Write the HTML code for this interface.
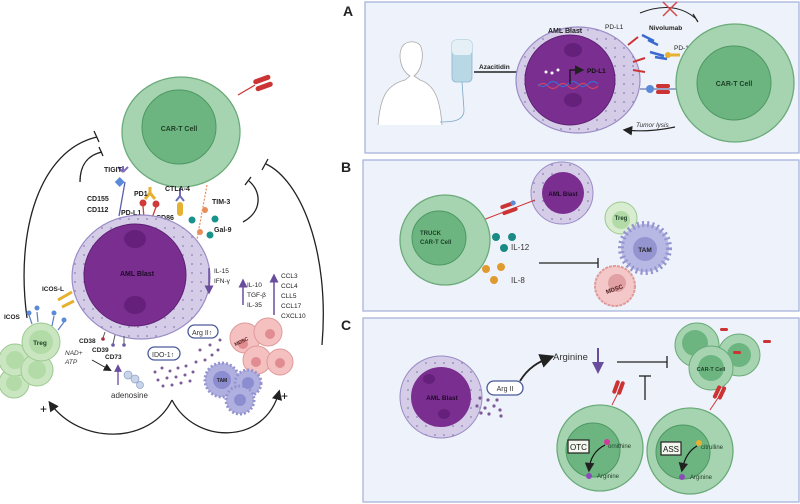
<!DOCTYPE html>
<html><head><meta charset="utf-8"><style>
html,body{margin:0;padding:0;background:#fff;}
svg{display:block;font-family:"Liberation Sans",Arial,sans-serif;}
.b{font-weight:bold;}
</style></head><body>
<svg width="800" height="504" viewBox="0 0 800 504" xmlns="http://www.w3.org/2000/svg">
<defs>
<marker id="ah" markerWidth="8" markerHeight="8" refX="6" refY="4" orient="auto"><path d="M0,0 L8,4 L0,8 z" fill="#222"/></marker>
<marker id="ahp" markerWidth="6" markerHeight="6" refX="3" refY="3" orient="auto"><path d="M0,0 L6,3 L0,6 z" fill="#6a4c9c"/></marker>
<pattern id="dots" width="9" height="9" patternUnits="userSpaceOnUse"><circle cx="3" cy="3" r="0.9" fill="#8c80b4"/></pattern>
</defs>

<!-- ============ LEFT PANEL ============ -->
<path d="M27,318 C15,230 40,150 97,137" fill="none" stroke="#222" stroke-width="1.3"/>
<path d="M94,131 l5,11" stroke="#222" stroke-width="1.3"/>
<path d="M80,182 C80,165 88,155 102,152" fill="none" stroke="#222" stroke-width="1.3"/>
<path d="M99,147 l4,9" stroke="#222" stroke-width="1.3"/>
<path d="M322,345 C330,250 300,180 266,164" fill="none" stroke="#222" stroke-width="1.3"/>
<path d="M262,170 l6,-11" stroke="#222" stroke-width="1.3"/>
<path d="M243,222 C262,212 262,192 249,181" fill="none" stroke="#222" stroke-width="1.3"/>
<path d="M245,185 l6,-8" stroke="#222" stroke-width="1.3"/>
<path d="M172,400 C150,445 80,445 50,403" fill="none" stroke="#222" stroke-width="1.3" marker-end="url(#ah)"/>
<path d="M172,400 C195,445 265,445 279,392" fill="none" stroke="#222" stroke-width="1.3" marker-end="url(#ah)"/>
<text x="40" y="413" font-size="12">+</text>
<text x="281" y="400" font-size="12">+</text>

<line x1="238" y1="95" x2="255" y2="85" stroke="#c33" stroke-width="1.2"/>
<rect x="253" y="77" width="18" height="5" rx="2.5" fill="#c33" transform="rotate(-20 262 80)"/>
<rect x="255" y="84" width="18" height="5" rx="2.5" fill="#c33" transform="rotate(-20 264 86)"/>

<ellipse cx="181" cy="132" rx="59" ry="55" fill="#a7d4b0" stroke="#6aab7a" stroke-width="1.3"/>
<circle cx="179" cy="127" r="37" fill="#6cb580" stroke="#4e9864" stroke-width="1"/>
<text x="179" y="131" font-size="7" class="b" text-anchor="middle" fill="#1d3e26">CAR-T Cell</text>

<line x1="119" y1="216" x2="125" y2="182" stroke="#5b5fa8" stroke-width="1.3"/>
<rect x="116" y="178" width="7" height="7" fill="#5b8ad8" transform="rotate(45 119 182)"/>
<path d="M123,172 l0,-6 M123,172 l-5,-5 M123,172 l5,-5" stroke="#7e6cb8" stroke-width="2" fill="none"/>
<path d="M150,187 l0,6 l-5,6 M150,193 l5,6" stroke="#e6b030" stroke-width="3" fill="none"/>
<circle cx="143" cy="203" r="3.5" fill="#d03a3a"/><circle cx="156" cy="204" r="3.5" fill="#d03a3a"/>
<line x1="143" y1="206" x2="144" y2="218" stroke="#d03a3a" stroke-width="1.3"/>
<line x1="156" y1="207" x2="152" y2="218" stroke="#d03a3a" stroke-width="1.3"/>
<path d="M180,188 l0,8 M180,196 l-4,5 M180,196 l4,5" stroke="#6c6cb8" stroke-width="2" fill="none"/>
<rect x="177" y="202" width="6" height="14" rx="3" fill="#e6b030"/>
<line x1="207" y1="185" x2="196" y2="245" stroke="#e88c5a" stroke-width="1.2" stroke-dasharray="2,1.5"/>
<circle cx="205" cy="210" r="3" fill="#e88c5a"/><circle cx="200" cy="232" r="3" fill="#e88c5a"/>
<circle cx="192" cy="220" r="3.5" fill="#18938c"/><circle cx="215" cy="219" r="3.5" fill="#18938c"/><circle cx="210" cy="235" r="3.5" fill="#18938c"/>

<text x="104" y="172" font-size="7" class="b" fill="#222">TIGIT</text>
<text x="87" y="201" font-size="7" class="b" fill="#222">CD155</text>
<text x="87" y="212" font-size="7" class="b" fill="#222">CD112</text>
<text x="134" y="196" font-size="7" class="b" fill="#222">PD1</text>
<text x="165" y="191" font-size="7" class="b" fill="#222">CTLA-4</text>
<text x="121" y="215" font-size="7" class="b" fill="#222">PD-L1</text>
<text x="156" y="220" font-size="7" class="b" fill="#222">CD86</text>
<text x="212" y="204" font-size="7" class="b" fill="#222">TIM-3</text>
<text x="214" y="232" font-size="7" class="b" fill="#222">Gal-9</text>

<ellipse cx="141" cy="277" rx="69" ry="62" fill="#d5cde8" stroke="#9a8cc6" stroke-width="1.2"/>
<ellipse cx="141" cy="277" rx="69" ry="62" fill="url(#dots)"/>
<circle cx="135" cy="275" r="51" fill="#7a2f90" stroke="#5e1f74" stroke-width="1"/>
<ellipse cx="135" cy="239" rx="11" ry="9" fill="#64207a"/>
<ellipse cx="135" cy="305" rx="11" ry="9" fill="#64207a"/>
<text x="137" y="276" font-size="7" class="b" text-anchor="middle" fill="#1e0a28">AML Blast</text>

<line x1="209" y1="268" x2="209" y2="290" stroke="#6a4c9c" stroke-width="1.5" marker-end="url(#ahp)"/>
<text x="214" y="273" font-size="6.5" fill="#222">IL-15</text>
<text x="214" y="283" font-size="6.5" fill="#222">IFN-γ</text>
<line x1="243" y1="305" x2="243" y2="283" stroke="#6a4c9c" stroke-width="1.5" marker-end="url(#ahp)"/>
<text x="247" y="287" font-size="6.5" fill="#222">IL-10</text>
<text x="247" y="297" font-size="6.5" fill="#222">TGF-β</text>
<text x="247" y="307" font-size="6.5" fill="#222">IL-35</text>
<line x1="274" y1="315" x2="274" y2="278" stroke="#6a4c9c" stroke-width="1.5" marker-end="url(#ahp)"/>
<text x="281" y="278" font-size="6.5" fill="#222">CCL3</text>
<text x="281" y="288" font-size="6.5" fill="#222">CCL4</text>
<text x="281" y="298" font-size="6.5" fill="#222">CLL5</text>
<text x="281" y="308" font-size="6.5" fill="#222">CCL17</text>
<text x="281" y="318" font-size="6.5" fill="#222">CXCL10</text>

<circle cx="14" cy="383" r="15" fill="#c9e6c0" stroke="#9cc990" stroke-width="1"/>
<circle cx="15" cy="360" r="16" fill="#c9e6c0" stroke="#9cc990" stroke-width="1"/>
<circle cx="37" cy="370" r="16" fill="#c9e6c0" stroke="#9cc990" stroke-width="1"/>
<circle cx="14" cy="383" r="8" fill="#b2dba8"/><circle cx="15" cy="360" r="9" fill="#b2dba8"/><circle cx="37" cy="370" r="9" fill="#b2dba8"/>
<circle cx="41" cy="342" r="19" fill="#c9e6c0" stroke="#9cc990" stroke-width="1"/>
<circle cx="41" cy="342" r="12" fill="#b2dba8"/>
<text x="40" y="345" font-size="6.5" class="b" text-anchor="middle" fill="#1d3e26">Treg</text>
<path d="M32,324 l-3,-9 M38,322 l-1,-10 M52,326 l2,-10 M58,330 l6,-8" stroke="#5b7ec8" stroke-width="1.2"/>
<circle cx="29" cy="313" r="2.5" fill="#5b8ad8"/><circle cx="37" cy="308" r="2.5" fill="#5b8ad8"/><circle cx="54" cy="313" r="2.5" fill="#5b8ad8"/><circle cx="64" cy="320" r="2.5" fill="#5b8ad8"/>
<path d="M58,300 l14,-8 M62,307 l12,-6" stroke="#e6b030" stroke-width="3"/>
<text x="4" y="319" font-size="6.5" class="b" fill="#222">ICOS</text>
<text x="42" y="291" font-size="6.5" class="b" fill="#222">ICOS-L</text>

<line x1="105" y1="332" x2="103" y2="338" stroke="#555" stroke-width="1"/><circle cx="103" cy="339" r="1.8" fill="#a33040"/>
<line x1="115" y1="335" x2="113" y2="344" stroke="#555" stroke-width="1"/><circle cx="113" cy="345" r="1.8" fill="#6a5aa8"/>
<line x1="124" y1="336" x2="124" y2="344" stroke="#555" stroke-width="1"/><circle cx="124" cy="345" r="1.8" fill="#6a5aa8"/>
<text x="79" y="343" font-size="6.5" class="b" fill="#222">CD38</text>
<text x="92" y="352" font-size="6.5" class="b" fill="#222">CD39</text>
<text x="105" y="359" font-size="6.5" class="b" fill="#222">CD73</text>
<text x="65" y="355" font-size="6.5" font-style="italic" fill="#333">NAD+</text>
<text x="65" y="364" font-size="6.5" font-style="italic" fill="#333">ATP</text>
<line x1="92" y1="360" x2="110" y2="370" stroke="#222" stroke-width="1" marker-end="url(#ah)"/>
<line x1="118" y1="385" x2="118" y2="368" stroke="#6a4c9c" stroke-width="1.3" marker-end="url(#ahp)"/>
<circle cx="128" cy="375" r="4" fill="#c8d4e8" stroke="#8ea0c8" stroke-width="0.7"/><circle cx="135" cy="379" r="4" fill="#c8d4e8" stroke="#8ea0c8" stroke-width="0.7"/><circle cx="140" cy="385" r="3.5" fill="#c8d4e8" stroke="#8ea0c8" stroke-width="0.7"/>
<text x="111" y="398" font-size="8" fill="#333">adenosine</text>

<rect x="148" y="347" width="32" height="13" rx="6.5" fill="#fff" stroke="#4a5a9a" stroke-width="1.3"/>
<text x="152" y="357" font-size="7" fill="#333">IDO-1↑</text>
<rect x="188" y="325" width="30" height="13" rx="6.5" fill="#fff" stroke="#4a5a9a" stroke-width="1.3"/>
<text x="192" y="335" font-size="7" fill="#333">Arg II↑</text>
<g fill="#7d5a9a">
<circle cx="155" cy="372" r="1.5"/><circle cx="162" cy="368" r="1.5"/><circle cx="170" cy="371" r="1.5"/><circle cx="178" cy="368" r="1.5"/><circle cx="186" cy="366" r="1.5"/><circle cx="196" cy="362" r="1.5"/><circle cx="205" cy="360" r="1.5"/><circle cx="212" cy="355" r="1.5"/><circle cx="200" cy="350" r="1.5"/><circle cx="210" cy="345" r="1.5"/><circle cx="158" cy="380" r="1.5"/><circle cx="167" cy="378" r="1.5"/><circle cx="176" cy="377" r="1.5"/><circle cx="185" cy="375" r="1.5"/><circle cx="193" cy="372" r="1.5"/><circle cx="163" cy="386" r="1.5"/><circle cx="172" cy="385" r="1.5"/><circle cx="181" cy="383" r="1.5"/><circle cx="190" cy="381" r="1.5"/><circle cx="220" cy="340" r="1.5"/><circle cx="218" cy="350" r="1.5"/>
</g>
<g fill="#f4c0c0" stroke="#e09a9a" stroke-width="1">
<circle cx="245" cy="338" r="15"/><circle cx="268" cy="332" r="14"/><circle cx="257" cy="360" r="14"/><circle cx="280" cy="362" r="13"/>
</g>
<g fill="#e08c90"><circle cx="243" cy="344" r="5"/><circle cx="270" cy="334" r="5"/><circle cx="256" cy="362" r="5"/><circle cx="280" cy="363" r="5"/></g>
<text x="242" y="343" font-size="5" class="b" fill="#4a1a1a" text-anchor="middle" transform="rotate(-25 242 343)">MDSC</text>
<circle cx="222" cy="380" r="17" fill="#b0b0e0" stroke="#9494d0" stroke-width="3" stroke-dasharray="2,2"/>
<circle cx="222" cy="380" r="9" fill="#8c8cd0"/>
<circle cx="248" cy="383" r="13" fill="#b0b0e0" stroke="#9494d0" stroke-width="3" stroke-dasharray="2,2"/>
<circle cx="240" cy="400" r="14" fill="#b0b0e0" stroke="#9494d0" stroke-width="3" stroke-dasharray="2,2"/>
<circle cx="248" cy="383" r="6" fill="#8c8cd0"/><circle cx="240" cy="400" r="6" fill="#8c8cd0"/>
<text x="222" y="382" font-size="5" class="b" text-anchor="middle" fill="#222">TAM</text>

<!-- ============ PANEL A ============ -->
<rect x="365" y="2" width="434" height="151" fill="#eef2fa" stroke="#a7b4dc" stroke-width="1.3"/>
<text x="343" y="16" font-size="14" class="b" fill="#222">A</text>
<path d="M378,125 C380,100 385,85 405,80 L410,76 C400,70 398,55 402,47 C406,40 418,40 421,47 C424,55 422,70 414,76 L420,80 C435,85 440,100 442,125" fill="#fff" stroke="#aaa" stroke-width="0.8"/>
<rect x="452" y="40" width="20" height="42" rx="4" fill="#b9d8e6" stroke="#8ab4cc" stroke-width="0.8"/>
<rect x="452" y="40" width="20" height="15" rx="4" fill="#e4f0f6"/>
<path d="M462,82 L464,110 C464,122 450,122 440,122" fill="none" stroke="#7aa8c8" stroke-width="0.8"/>
<line x1="474" y1="72" x2="530" y2="72" stroke="#222" stroke-width="1.5" marker-end="url(#ah)"/>
<text x="479" y="69" font-size="6.5" class="b" fill="#222">Azacitidin</text>
<ellipse cx="578" cy="80" rx="62" ry="53" fill="#d5cde8" stroke="#9a8cc6" stroke-width="1.2"/>
<ellipse cx="578" cy="80" rx="62" ry="53" fill="url(#dots)"/>
<circle cx="570" cy="80" r="45" fill="#7a2f90" stroke="#5e1f74"/>
<ellipse cx="573" cy="50" rx="9" ry="7" fill="#64207a"/><ellipse cx="573" cy="100" rx="9" ry="7" fill="#64207a"/>
<path d="M538,86 q5,-5 10,0 t10,0 t10,0 t10,0 t10,0 t10,0" fill="none" stroke="#d84060" stroke-width="1.2"/>
<path d="M538,84 q5,5 10,0 t10,0 t10,0 t10,0 t10,0 t10,0" fill="none" stroke="#3a6ad0" stroke-width="1.2"/>
<circle cx="546" cy="72" r="1.5" fill="#fff"/><circle cx="552" cy="73" r="1.5" fill="#fff"/><circle cx="558" cy="70" r="1.5" fill="#fff"/>
<path d="M570,84 v-14 h12" fill="none" stroke="#111" stroke-width="1.2" marker-end="url(#ah)"/>
<text x="587" y="73" font-size="6.5" class="b" fill="#111">PD-L1</text>
<text x="548" y="33" font-size="7" class="b" fill="#222">AML Blast</text>
<text x="605" y="29" font-size="6.5" fill="#222">PD-L1</text>
<path d="M628,45 l10,-8 M633,62 l12,-4 M633,70 l12,2" stroke="#c33" stroke-width="2"/>
<path d="M642,35 l12,6 M648,40 l10,5 M650,52 l14,4 M655,57 l12,2" stroke="#3a6ad0" stroke-width="2.5"/>
<path d="M666,55 l14,0" stroke="#e6b030" stroke-width="3"/><circle cx="668" cy="55" r="3" fill="#e6b030"/>
<text x="674" y="50" font-size="6.5" fill="#222">PD-1</text>
<path d="M640,13 C660,5 680,5 695,18" fill="none" stroke="#222" stroke-width="1"/>
<line x1="693" y1="14" x2="698" y2="22" stroke="#222" stroke-width="1.2"/>
<path d="M663,2 l14,14 M677,2 l-14,14" stroke="#d04848" stroke-width="1.5"/>
<text x="649" y="30" font-size="6.5" class="b" fill="#222">Nivolumab</text>
<line x1="640" y1="89" x2="680" y2="89" stroke="#4a5a9a" stroke-width="1"/>
<circle cx="650" cy="89" r="4" fill="#5b8ad8"/>
<rect x="656" y="84" width="14" height="4" rx="2" fill="#c33"/><rect x="656" y="90" width="14" height="4" rx="2" fill="#c33"/>
<circle cx="735" cy="83" r="59" fill="#a7d4b0" stroke="#6aab7a" stroke-width="1.3"/>
<circle cx="734" cy="83" r="37" fill="#6cb580" stroke="#4e9864"/>
<text x="734" y="86" font-size="7" class="b" text-anchor="middle" fill="#1d3e26">CAR-T Cell</text>
<path d="M675,127 C660,130 645,132 625,130" fill="none" stroke="#222" stroke-width="1.2" marker-end="url(#ah)"/>
<text x="636" y="127" font-size="6.5" font-style="italic" fill="#333">Tumor lysis</text>

<!-- ============ PANEL B ============ -->
<rect x="363" y="160" width="436" height="151" fill="#eef2fa" stroke="#a7b4dc" stroke-width="1.3"/>
<text x="341" y="172" font-size="14" class="b" fill="#222">B</text>
<circle cx="562" cy="193" r="31" fill="#d5cde8" stroke="#9a8cc6"/>
<circle cx="562" cy="193" r="31" fill="url(#dots)"/>
<circle cx="563" cy="193" r="21" fill="#7a2f90"/>
<text x="563" y="196" font-size="6" class="b" text-anchor="middle" fill="#1e0a28">AML Blast</text>
<line x1="483" y1="220" x2="535" y2="200" stroke="#c33" stroke-width="1"/>
<rect x="500" y="203" width="16" height="4" rx="2" fill="#c33" transform="rotate(-20 508 205)"/>
<rect x="502" y="209" width="16" height="4" rx="2" fill="#c33" transform="rotate(-20 510 211)"/>
<circle cx="513" cy="203" r="2.5" fill="#5b8ad8"/>
<circle cx="445" cy="240" r="45" fill="#a7d4b0" stroke="#6aab7a" stroke-width="1.3"/>
<circle cx="439" cy="238" r="27" fill="#6cb580" stroke="#4e9864"/>
<text x="420" y="235" font-size="6" class="b" fill="#1d3e26">TRUCK</text>
<text x="420" y="244" font-size="6" class="b" fill="#1d3e26">CAR-T Cell</text>
<g fill="#1a8a84"><circle cx="496" cy="237" r="4"/><circle cx="512" cy="237" r="4"/><circle cx="504" cy="248" r="4"/></g>
<g fill="#e09a30"><circle cx="486" cy="269" r="4"/><circle cx="501" cy="267" r="4"/><circle cx="494" cy="280" r="4"/></g>
<text x="511" y="250" font-size="8" fill="#333">IL-12</text>
<text x="511" y="283" font-size="8" fill="#333">IL-8</text>
<line x1="539" y1="263" x2="598" y2="263" stroke="#222" stroke-width="1.3"/>
<line x1="598" y1="258" x2="598" y2="268" stroke="#222" stroke-width="1.3"/>
<circle cx="621" cy="218" r="16" fill="#d8ecd0" stroke="#9cc990"/>
<circle cx="621" cy="220" r="9" fill="#b2dba8"/>
<text x="621" y="220" font-size="6" class="b" text-anchor="middle" fill="#1d3e26">Treg</text>
<circle cx="615" cy="286" r="20" fill="#f4c8c8" stroke="#e09a9a" stroke-width="2" stroke-dasharray="3,1"/>
<circle cx="617" cy="283" r="9" fill="#e0a0a4"/>
<text x="615" y="291" font-size="6" class="b" text-anchor="middle" fill="#4a1a1a" transform="rotate(-20 615 291)">MDSC</text>
<circle cx="645" cy="248" r="24" fill="#b8b8e4" stroke="#9494d0" stroke-width="6" stroke-dasharray="2,3"/>
<circle cx="645" cy="249" r="12" fill="#9494d0"/>
<text x="645" y="252" font-size="6.5" class="b" text-anchor="middle" fill="#222">TAM</text>

<!-- ============ PANEL C ============ -->
<rect x="363" y="318" width="436" height="184" fill="#eef2fa" stroke="#a7b4dc" stroke-width="1.3"/>
<text x="341" y="330" font-size="14" class="b" fill="#222">C</text>
<circle cx="441" cy="397" r="41" fill="#d5cde8" stroke="#9a8cc6"/>
<circle cx="441" cy="397" r="41" fill="url(#dots)"/>
<circle cx="441" cy="397" r="30" fill="#7a2f90"/>
<ellipse cx="429" cy="379" rx="6" ry="5" fill="#64207a"/><ellipse cx="444" cy="414" rx="6" ry="5" fill="#64207a"/>
<text x="442" y="400" font-size="6.5" class="b" text-anchor="middle" fill="#1e0a28">AML Blast</text>
<rect x="487" y="381" width="36" height="14" rx="7" fill="#fff" stroke="#4a5a9a" stroke-width="1.3"/>
<text x="505" y="391" font-size="7" text-anchor="middle" fill="#333">Arg II</text>
<g fill="#7d5a9a"><circle cx="480" cy="398" r="1.6"/><circle cx="488" cy="400" r="1.6"/><circle cx="497" cy="400" r="1.6"/><circle cx="477" cy="406" r="1.6"/><circle cx="485" cy="408" r="1.6"/><circle cx="494" cy="406" r="1.6"/><circle cx="500" cy="410" r="1.6"/><circle cx="489" cy="414" r="1.6"/><circle cx="481" cy="413" r="1.6"/><circle cx="501" cy="416" r="1.6"/></g>
<path d="M520,381 C528,368 538,362 551,357" fill="none" stroke="#222" stroke-width="1.8" marker-end="url(#ah)"/>
<text x="553" y="360" font-size="9.5" fill="#333">Arginine</text>
<line x1="598" y1="348" x2="598" y2="368" stroke="#6a4c9c" stroke-width="2" marker-end="url(#ahp)"/>
<line x1="617" y1="362" x2="667" y2="362" stroke="#222" stroke-width="1.3"/>
<line x1="667" y1="356" x2="667" y2="368" stroke="#222" stroke-width="1.3"/>
<line x1="645" y1="400" x2="645" y2="376" stroke="#222" stroke-width="1.3"/>
<line x1="639" y1="376" x2="651" y2="376" stroke="#222" stroke-width="1.3"/>
<circle cx="697" cy="345" r="22" fill="#a7d4b0" stroke="#6aab7a"/><circle cx="695" cy="343" r="13" fill="#6cb580"/>
<circle cx="739" cy="355" r="21" fill="#a7d4b0" stroke="#6aab7a"/><circle cx="739" cy="355" r="12" fill="#6cb580"/>
<circle cx="711" cy="368" r="22" fill="#a7d4b0" stroke="#6aab7a"/><circle cx="711" cy="368" r="13" fill="#6cb580"/>
<text x="711" y="371" font-size="5.5" class="b" text-anchor="middle" fill="#1d3e26">CAR-T Cell</text>
<rect x="720" y="328" width="8" height="3" rx="1.5" fill="#c33"/><rect x="763" y="340" width="8" height="3" rx="1.5" fill="#c33"/><rect x="733" y="351" width="8" height="3" rx="1.5" fill="#c33"/>
<circle cx="600" cy="448" r="43" fill="#a7d4b0" stroke="#6aab7a" stroke-width="1.3"/>
<circle cx="593" cy="450" r="27" fill="#6cb580" stroke="#4e9864"/>
<line x1="612" y1="405" x2="618" y2="393" stroke="#c33" stroke-width="1"/>
<rect x="614" y="380" width="4" height="14" rx="2" fill="#c33" transform="rotate(20 616 387)"/><rect x="619" y="381" width="4" height="14" rx="2" fill="#c33" transform="rotate(20 621 388)"/>
<rect x="568" y="440" width="21" height="13" fill="#f2f6ec" stroke="#222" stroke-width="1.2"/>
<text x="578.5" y="450" font-size="8" text-anchor="middle" fill="#111">OTC</text>
<circle cx="607" cy="442" r="3" fill="#d03a9a"/>
<text x="608" y="448" font-size="6" fill="#1d3e26">ornithine</text>
<path d="M605,445 C595,450 590,458 589,470" fill="none" stroke="#111" stroke-width="1.2" marker-end="url(#ah)"/>
<circle cx="589" cy="476" r="3" fill="#8a4cb8"/>
<text x="597" y="478" font-size="6" fill="#1d3e26">Arginine</text>
<circle cx="690" cy="451" r="43" fill="#a7d4b0" stroke="#6aab7a" stroke-width="1.3"/>
<circle cx="683" cy="452" r="27" fill="#6cb580" stroke="#4e9864"/>
<line x1="710" y1="410" x2="718" y2="398" stroke="#c33" stroke-width="1"/>
<rect x="715" y="385" width="4" height="14" rx="2" fill="#c33" transform="rotate(25 717 392)"/><rect x="720" y="386" width="4" height="14" rx="2" fill="#c33" transform="rotate(25 722 393)"/>
<rect x="661" y="442" width="20" height="13" fill="#f2f6ec" stroke="#222" stroke-width="1.2"/>
<text x="671" y="452" font-size="8" text-anchor="middle" fill="#111">ASS</text>
<circle cx="699" cy="443" r="3" fill="#e6b030"/>
<text x="701" y="449" font-size="6" fill="#1d3e26">citrulline</text>
<path d="M697,446 C688,451 684,460 682,470" fill="none" stroke="#111" stroke-width="1.2" marker-end="url(#ah)"/>
<circle cx="682" cy="477" r="3" fill="#8a4cb8"/>
<text x="690" y="479" font-size="6" fill="#1d3e26">Arginine</text>
</svg>
</body></html>
